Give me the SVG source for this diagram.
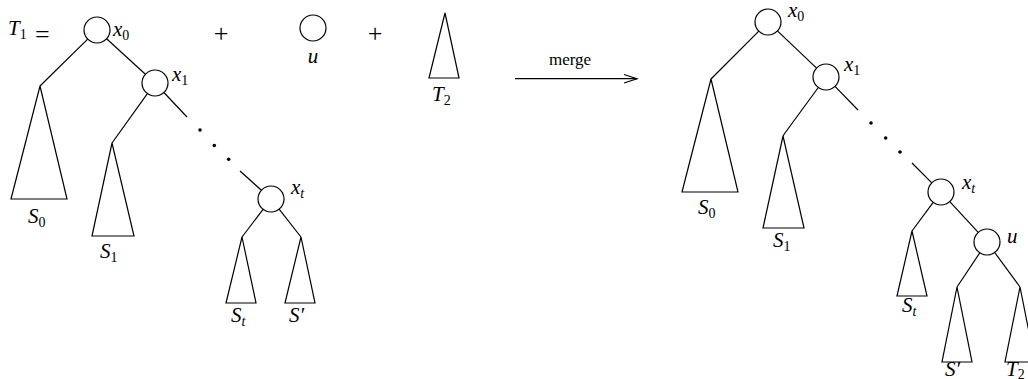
<svg xmlns="http://www.w3.org/2000/svg" width="1028" height="379" viewBox="0 0 1028 379">
<defs>
<style>
.s{stroke:#000;stroke-width:1.2;fill:none}
.c{stroke:#000;stroke-width:1.2;fill:#fff}
.m{font-family:"Liberation Serif",serif;font-style:italic;font-size:21px;fill:#000}
.r{font-family:"Liberation Serif",serif;font-size:26px;fill:#000}
.sub{font-size:14px;font-style:normal}
.subi{font-size:14px}
.t{font-family:"Liberation Serif",serif;font-size:17px;fill:#000}
.dot{fill:#000}
</style>
</defs>
<rect width="1028" height="379" fill="#fff"/>

<text class="m" x="8" y="35">T<tspan class="sub" dy="4">1</tspan></text>
<text class="r" x="35" y="43">=</text>
<text class="r" x="221" y="42" text-anchor="middle">+</text>
<text class="r" x="375" y="42" text-anchor="middle">+</text>

<g id="connectors">
<line class="s" x1="87.7" y1="39.1" x2="40" y2="86"/>
<line class="s" x1="106.6" y1="38.8" x2="145.4" y2="74.2"/>
<line class="s" x1="147.4" y1="93.6" x2="112" y2="143"/>
<line class="s" x1="163.9" y1="92.5" x2="187" y2="117"/>
<line class="s" x1="240" y1="171" x2="261.4" y2="190.3"/>
<line class="s" x1="263.1" y1="209.3" x2="242" y2="237"/>
<line class="s" x1="279.1" y1="209.2" x2="301" y2="237"/>
<circle class="dot" cx="200" cy="130" r="1.8"/>
<circle class="dot" cx="214.3" cy="145.5" r="1.8"/>
<circle class="dot" cx="228.7" cy="159.3" r="1.8"/>

<line class="s" x1="515" y1="78.7" x2="637" y2="78.7"/>
<polyline class="s" points="624,74.5 637,78.7 624,83"/>

<line class="s" x1="758.8" y1="31.2" x2="711" y2="79"/>
<line class="s" x1="777.4" y1="30.9" x2="816.6" y2="68.1"/>
<polyline class="s" points="818.3,87.5 785,133 783,136"/>
<line class="s" x1="835" y1="86.3" x2="858" y2="110"/>
<line class="s" x1="912" y1="163" x2="931.8" y2="182.8"/>
<line class="s" x1="933.2" y1="202.4" x2="912" y2="231"/>
<line class="s" x1="949.8" y1="201.6" x2="978.2" y2="232.4"/>
<line class="s" x1="979.8" y1="252.8" x2="957" y2="287"/>
<line class="s" x1="994.7" y1="252.5" x2="1020" y2="287"/>
<circle class="dot" cx="871" cy="123" r="1.8"/>
<circle class="dot" cx="885.7" cy="138" r="1.8"/>
<circle class="dot" cx="900" cy="152" r="1.8"/>
</g>
<text class="t" x="570" y="65" text-anchor="middle">merge</text>

<g id="L-x0"><circle class="c" cx="97" cy="30" r="13"/><text class="m" x="113" y="36">x<tspan class="sub" dy="4">0</tspan></text></g>
<g id="L-x1"><circle class="c" cx="155" cy="83" r="13"/><text class="m" x="172" y="81">x<tspan class="sub" dy="4">1</tspan></text></g>
<g id="L-xt"><circle class="c" cx="271" cy="199" r="13"/><text class="m" x="291" y="194">x<tspan class="subi" dy="4">t</tspan></text></g>
<g id="L-S0"><polygon class="s" points="40,86 11,199 67,199"/><text class="m" x="28" y="223">S<tspan class="sub" dy="4">0</tspan></text></g>
<g id="L-S1"><polygon class="s" points="112,143 92,236 134,236"/><text class="m" x="100" y="258">S<tspan class="sub" dy="4">1</tspan></text></g>
<g id="L-St"><polygon class="s" points="242,237 226,303 256,303"/><text class="m" x="231" y="322">S<tspan class="subi" dy="4">t</tspan></text></g>
<g id="L-Sp"><polygon class="s" points="301,237 285,303 315,303"/><text class="m" x="289" y="322">S′</text></g>

<g id="M-u"><circle class="c" cx="313" cy="28" r="13"/><text class="m" x="313" y="63" text-anchor="middle">u</text></g>
<g id="M-T2"><polygon class="s" points="445,13 429,78 459,78"/><text class="m" x="432" y="101">T<tspan class="sub" dy="4">2</tspan></text></g>

<g id="R-x0"><circle class="c" cx="768" cy="22" r="13"/><text class="m" x="788" y="17">x<tspan class="sub" dy="4">0</tspan></text></g>
<g id="R-x1"><circle class="c" cx="826" cy="77" r="13"/><text class="m" x="844" y="71">x<tspan class="sub" dy="4">1</tspan></text></g>
<g id="R-xt"><circle class="c" cx="941" cy="192" r="13"/><text class="m" x="962" y="189">x<tspan class="subi" dy="4">t</tspan></text></g>
<g id="R-u"><circle class="c" cx="987" cy="242" r="13"/><text class="m" x="1007" y="243">u</text></g>
<g id="R-S0"><polygon class="s" points="711,79 682,192 738,192"/><text class="m" x="698" y="214">S<tspan class="sub" dy="4">0</tspan></text></g>
<g id="R-S1"><polygon class="s" points="783,136 763,228 804,228"/><text class="m" x="773" y="247">S<tspan class="sub" dy="4">1</tspan></text></g>
<g id="R-St"><polygon class="s" points="912,231 897,296 927,296"/><text class="m" x="902" y="312">S<tspan class="subi" dy="4">t</tspan></text></g>
<g id="R-Sp"><polygon class="s" points="957,287 942,362 972,362"/><text class="m" x="945" y="376">S′</text></g>
<g id="R-T2"><polygon class="s" points="1020,287 1005,362 1035,362"/><text class="m" x="1006" y="376">T<tspan class="sub" dy="3">2</tspan></text></g>
</svg>
